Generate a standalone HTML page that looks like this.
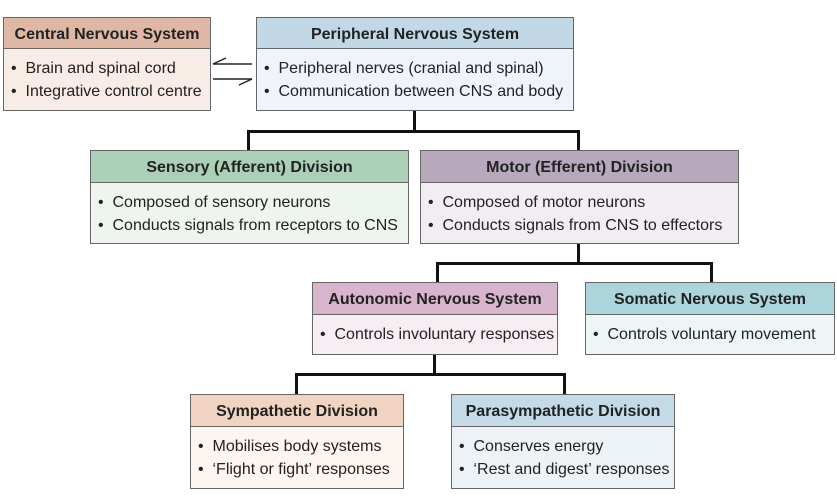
<!DOCTYPE html>
<html><head><style>
body{margin:0;width:837px;height:498px;background:#fff;position:relative;font-family:"Liberation Sans",Arial,sans-serif;overflow:hidden}
.b{position:absolute;border:1.5px solid #666;box-sizing:border-box}
.h{font-weight:bold;font-size:16px;text-align:center;border-bottom:1.5px solid #666;box-sizing:border-box;color:#222}
.c{font-size:16px;color:#222;padding:8px 0 0 7px;line-height:23px;white-space:nowrap}
.l{position:absolute;background:#111}
</style></head><body>
<svg style="position:absolute;left:0;top:0" width="837" height="498">
<g stroke="#222" stroke-width="1.5" fill="none">
<line x1="213" y1="64" x2="252" y2="64"/><polyline points="226,58 213,64"/>
<line x1="213" y1="79" x2="252" y2="79"/><polyline points="239,85 252,79"/>
</g></svg>
<div class="l" style="left:413px;top:110px;width:3px;height:22px"></div>
<div class="l" style="left:247px;top:130px;width:333px;height:3px"></div>
<div class="l" style="left:247px;top:130px;width:3px;height:21px"></div>
<div class="l" style="left:577px;top:130px;width:3px;height:21px"></div>
<div class="l" style="left:577px;top:243px;width:3px;height:21px"></div>
<div class="l" style="left:436px;top:262px;width:277px;height:3px"></div>
<div class="l" style="left:436px;top:262px;width:3px;height:21px"></div>
<div class="l" style="left:710px;top:262px;width:3px;height:21px"></div>
<div class="l" style="left:433px;top:354px;width:3px;height:21px"></div>
<div class="l" style="left:295px;top:373px;width:271px;height:3px"></div>
<div class="l" style="left:295px;top:373px;width:3px;height:22px"></div>
<div class="l" style="left:563px;top:373px;width:3px;height:22px"></div>

<div class="b" style="left:3px;top:17px;width:208px;height:94px;background:#f8ece6"><div class="h" style="background:#deb8a4;height:31px;line-height:33px">Central Nervous System</div><div class="c">•&nbsp; Brain and spinal cord<br>•&nbsp; Integrative control centre</div></div>
<div class="b" style="left:256px;top:17px;width:318px;height:94px;background:#eef4f9"><div class="h" style="background:#c2d8e7;height:31px;line-height:33px">Peripheral Nervous System</div><div class="c">•&nbsp; Peripheral nerves (cranial and spinal)<br>•&nbsp; Communication between CNS and body</div></div>
<div class="b" style="left:90px;top:150px;width:319px;height:94px;background:#eef5ef"><div class="h" style="background:#abcfb7;height:32px;line-height:33px">Sensory (Afferent) Division</div><div class="c">•&nbsp; Composed of sensory neurons<br>•&nbsp; Conducts signals from receptors to CNS</div></div>
<div class="b" style="left:420px;top:150px;width:319px;height:94px;background:#f2edf2"><div class="h" style="background:#b7a8bb;height:32px;line-height:33px">Motor (Efferent) Division</div><div class="c">•&nbsp; Composed of motor neurons<br>•&nbsp; Conducts signals from CNS to effectors</div></div>
<div class="b" style="left:312px;top:282px;width:246px;height:73px;background:#f7eef4"><div class="h" style="background:#d9b4ce;height:32px;line-height:33px">Autonomic Nervous System</div><div class="c">•&nbsp; Controls involuntary responses</div></div>
<div class="b" style="left:585px;top:282px;width:250px;height:73px;background:#edf5f6"><div class="h" style="background:#abd5db;height:32px;line-height:33px">Somatic Nervous System</div><div class="c">•&nbsp; Controls voluntary movement</div></div>
<div class="b" style="left:190px;top:394px;width:214px;height:95px;background:#fcf5f0"><div class="h" style="background:#f1d3c2;height:32px;line-height:33px">Sympathetic Division</div><div class="c">•&nbsp; Mobilises body systems<br>•&nbsp; ‘Flight or fight’ responses</div></div>
<div class="b" style="left:451px;top:394px;width:224px;height:95px;background:#edf2f6"><div class="h" style="background:#c4dae7;height:32px;line-height:33px">Parasympathetic Division</div><div class="c">•&nbsp; Conserves energy<br>•&nbsp; ‘Rest and digest’ responses</div></div>
</body></html>
